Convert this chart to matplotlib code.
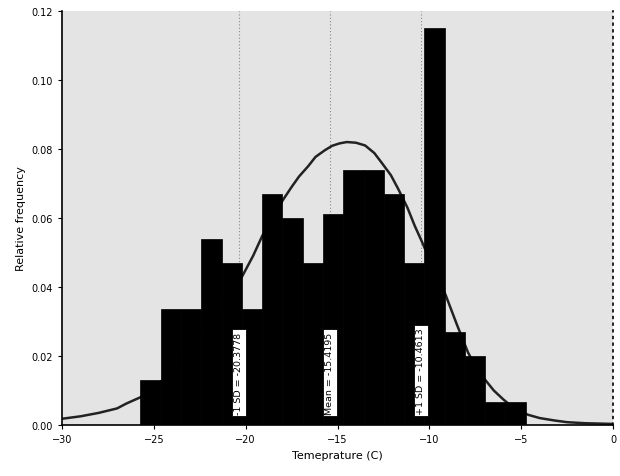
import numpy as np
import matplotlib
matplotlib.use("Agg")
import matplotlib.pyplot as plt

# histogram: 19 equal bins between these edges
first_edge = -25.73
last_edge = -4.76
rel_freq = [0.013, 0.0335, 0.0335, 0.054, 0.047, 0.0335, 0.067, 0.060, 0.047, 0.061,
            0.074, 0.074, 0.067, 0.047, 0.115, 0.027, 0.020, 0.0067, 0.0067]

# fitted curve
curve_x = [-30, -29, -28, -27, -26.5, -25.7, -25, -24.5, -24, -23.4, -23, -22.5, -22,
           -21.5, -21, -20.2, -19.6, -19.1, -18.5, -18.0, -17.5, -17.1, -16.6, -16.2,
           -15.7, -15.3, -14.9, -14.5, -14.0, -13.5, -13.0, -12.6, -12.1, -11.7, -11.2,
           -10.8, -10.4, -10.0, -9.5, -9.1, -8.5, -7.9, -7.5, -7.0, -6.5, -6.0, -5.6,
           -5.2, -4.6, -4.0, -3.2, -2.5, -1.5, 0]
curve_y = [0.0018, 0.0025, 0.0035, 0.0048, 0.0062, 0.0081, 0.011, 0.013, 0.0162, 0.0195,
           0.022, 0.0255, 0.029, 0.033, 0.037, 0.043, 0.049, 0.0548, 0.060, 0.065, 0.069,
           0.072, 0.075, 0.0777, 0.0796, 0.0809, 0.0816, 0.082, 0.0818, 0.081, 0.0788,
           0.076, 0.0724, 0.0684, 0.063, 0.0577, 0.053, 0.048, 0.0425, 0.0374, 0.029,
           0.021, 0.017, 0.0133, 0.010, 0.0075, 0.0057, 0.0041, 0.0029, 0.002, 0.0013,
           0.0008, 0.0005, 0.0003]

# reference lines
ref_values = [-20.3778, -15.4195, -10.4613]
ref_labels = ["-1 SD = -20.3778", "Mean = -15.4195", "+1 SD = -10.4613"]

x_ticks = [-30, -25, -20, -15, -10, -5, 0]
y_ticks = [0.00, 0.02, 0.04, 0.06, 0.08, 0.10, 0.12]

fig = plt.figure(figsize=(6.2, 4.77), dpi=100)
ax = fig.add_axes([0.1, 0.107, 0.889, 0.868])
ax.set_facecolor("#e4e4e4")

for v in ref_values:
    ax.axvline(v, color="#888888", linestyle=(0, (1, 2)), linewidth=0.8, zorder=1)

ax.plot(curve_x, curve_y, color="#222222", linewidth=1.8, zorder=2)

edges = np.linspace(first_edge, last_edge, len(rel_freq) + 1)
ax.bar(edges[:-1], rel_freq, width=np.diff(edges), align="edge",
       color="black", edgecolor="black", linewidth=0.5, zorder=3)

for v, lab in zip(ref_values, ref_labels):
    ax.text(v, 0.0032, lab, rotation=90, ha="center", va="bottom", fontsize=6.8,
            zorder=4, bbox=dict(boxstyle="square,pad=0.25", facecolor="white",
                                edgecolor="black", linewidth=0.6))

ax.set_xlim(-30, 0)
ax.set_ylim(0, 0.12)
ax.set_xticks(x_ticks)
ax.set_yticks(y_ticks)
ax.set_yticklabels([f"{t:.2f}" for t in y_ticks])
ax.tick_params(labelsize=7, length=3, width=0.8, direction="out")

ax.spines["top"].set_visible(False)
ax.spines["right"].set_linestyle((0, (1, 3)))
ax.spines["right"].set_linewidth(1.2)
ax.spines["left"].set_linewidth(1.2)
ax.spines["bottom"].set_linewidth(1.2)

ax.set_xlabel("Temeprature (C)", fontsize=8)
ax.set_ylabel("Relative frequency", fontsize=8)

fig.savefig("out.png", dpi=100)
